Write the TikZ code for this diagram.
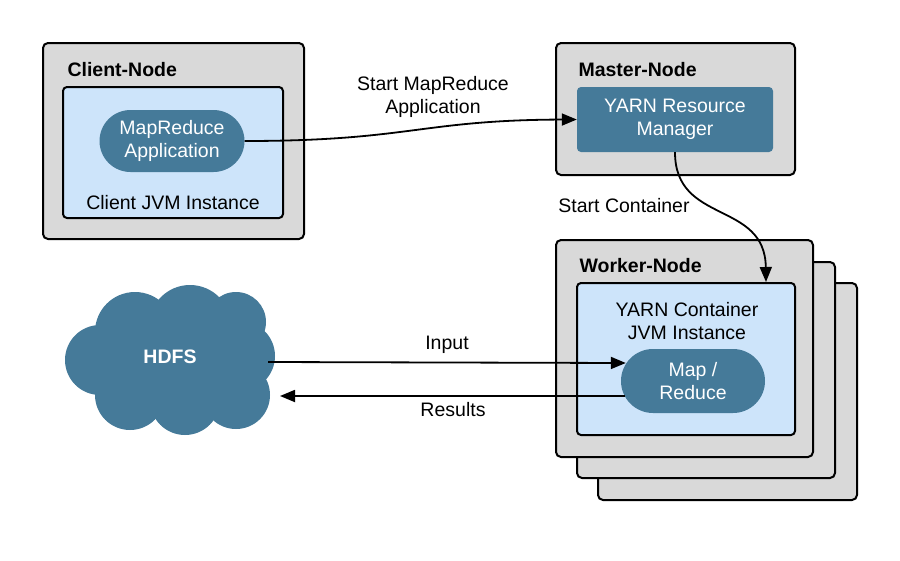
\documentclass[tikz,border=0pt]{standalone}
\usepackage{fontspec}
\setmainfont{Liberation Sans}
\usetikzlibrary{arrows.meta,shapes.misc}
\definecolor{boxgray}{HTML}{D9D9D9}
\definecolor{jvmblue}{HTML}{CDE4FA}
\definecolor{yarnblue}{HTML}{457A99}
\tikzset{
  nodebox/.style={draw, fill=boxgray, rounded corners=5, line width=2, inner sep=0},
  jvmbox/.style={draw, fill=jvmblue, rounded corners=4, line width=2, inner sep=0},
  pill/.style={rounded rectangle, fill=yarnblue, text=white, align=center, inner sep=0},
  txt/.style={align=center},
  flow/.style={line width=1.8, -{Triangle[length=15,width=12]}}
}
\begin{document}
\begin{tikzpicture}[x=1pt,y=-1pt,font=\fontsize{19.5}{23.5}\selectfont]
\useasboundingbox[fill=white] (0,0) rectangle (900,560);
% client side
\node[nodebox, minimum width=261, minimum height=196] (client) at (173.5,141) {};
\node[anchor=west] (clientlbl) at (64,70) {\bfseries Client-Node};
\node[jvmbox, minimum width=220, minimum height=131] (clientjvm) at (173,152.5) {};
\node[pill, minimum width=145, minimum height=62] (mrapp) at (172,141) {MapReduce\\Application};
\node[txt] (clientjvmlbl) at (173,203) {Client JVM Instance};
% master
\node[nodebox, minimum width=239, minimum height=132] (master) at (675.5,109) {};
\node[anchor=west] (masterlbl) at (575,70) {\bfseries Master-Node};
\node[fill=yarnblue, text=white, rounded corners=4, align=center, minimum width=196, minimum height=65] (rm) at (675,119.5) {YARN Resource\\Manager};
% worker stack
\node[nodebox, minimum width=259, minimum height=217] (worker3) at (727.5,391.5) {};
\node[nodebox, minimum width=258, minimum height=216] (worker2) at (706,370) {};
\node[nodebox, minimum width=257, minimum height=217] (worker) at (684.5,348.5) {};
\node[anchor=west] (workerlbl) at (576,266) {\bfseries Worker-Node};
\node[jvmbox, minimum width=218, minimum height=152] (workerjvm) at (686,359) {};
\node[txt] (workerjvmlbl) at (687,321) {YARN Container\\JVM Instance};
\node[pill, minimum width=144, minimum height=64] (mapred) at (693,381) {Map /\\Reduce};
% hdfs cloud
\fill[yarnblue] (110,320) rectangle (240,405);
\fill[yarnblue] (100,360) circle[radius=35pt];
\fill[yarnblue] (135,332) circle[radius=40pt];
\fill[yarnblue] (190,326) circle[radius=41pt];
\fill[yarnblue] (236,322) circle[radius=30pt];
\fill[yarnblue] (240,356) circle[radius=35pt];
\fill[yarnblue] (236,395) circle[radius=34pt];
\fill[yarnblue] (185,400) circle[radius=35pt];
\fill[yarnblue] (130,395) circle[radius=35pt];
\node[text=white] (hdfs) at (170,357) {\bfseries HDFS};
\coordinate (hdfsout) at (268,362);
\coordinate (hdfsin) at (280,396);
% connectors
\draw[flow] (mrapp.east) .. controls (410,141) and (420,120) .. (rm.west);
\node[txt] (startapp) at (433,97) {Start MapReduce\\Application};
\draw[flow] (rm.south) .. controls (675,225) and (765,200) .. ([xshift=-30]workerjvm.north east);
\node[txt] (startcont) at (624,206) {Start Container};
\draw[flow] (hdfsout) -- ([xshift=5,yshift=18]mapred.west);
\node[txt] (input) at (447,345) {Input};
\draw[flow] ([xshift=4,yshift=-15]mapred.west) -- (hdfsin);
\node[txt] (results) at (453,410) {Results};
\end{tikzpicture}
\end{document}
